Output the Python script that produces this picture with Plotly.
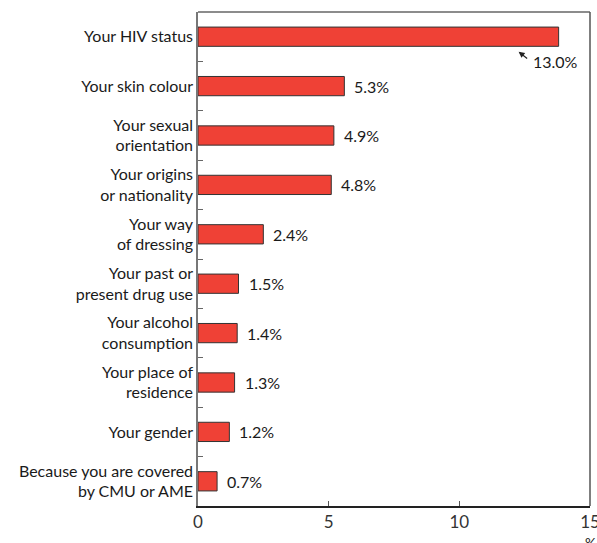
import plotly.graph_objects as go

categories = [
    "Your HIV status",
    "Your skin colour",
    "Your sexual<br>orientation",
    "Your origins<br>or nationality",
    "Your way<br>of dressing",
    "Your past or<br>present drug use",
    "Your alcohol<br>consumption",
    "Your place of<br>residence",
    "Your gender",
    "Because you are covered<br>by CMU or AME",
]
bar_values = [13.8, 5.6, 5.2, 5.1, 2.5, 1.55, 1.5, 1.4, 1.2, 0.73]
value_labels = ["13.0%", "5.3%", "4.9%", "4.8%", "2.4%", "1.5%", "1.4%", "1.3%", "1.2%", "0.7%"]
x_ticks = [0, 5, 10, 15]

FONT = "Lato"
TXT = "#1a1a1a"

fig = go.Figure()
fig.add_trace(go.Bar(
    y=categories,
    x=bar_values,
    orientation="h",
    width=0.39,
    marker=dict(color="#EF4136", line=dict(color="#333333", width=1)),
    hoverinfo="skip",
))

annotations = []
for i, (cat, v, lab) in enumerate(zip(categories, bar_values, value_labels)):
    if i == 0:
        annotations.append(dict(
            x=v, y=cat, xref="x", yref="y",
            xshift=-40, yshift=-15,
            text="", showarrow=True, ax=10, ay=8,
            arrowhead=2, arrowsize=1.0, arrowwidth=1.2, arrowcolor="#222",
        ))
        annotations.append(dict(
            x=v, y=cat, xref="x", yref="y",
            xshift=-28, yshift=-25,
            text=lab, showarrow=False, xanchor="left",
            font=dict(family=FONT, size=16, color=TXT),
        ))
    else:
        annotations.append(dict(
            x=v, y=cat, xref="x", yref="y",
            xshift=8, text=lab, showarrow=False, xanchor="left",
            font=dict(family=FONT, size=16, color=TXT),
        ))

annotations.append(dict(
    x=15, y=0, xref="x", yref="paper", yshift=-26,
    text="%", showarrow=False, xanchor="center", yanchor="top",
    font=dict(family=FONT, size=14, color=TXT),
))

fig.update_layout(
    width=597, height=543,
    margin=dict(l=198, r=7, t=12, b=37, pad=0, autoexpand=False),
    paper_bgcolor="white", plot_bgcolor="white",
    showlegend=False,
    font=dict(family=FONT, size=16, color=TXT),
    annotations=annotations,
)
fig.update_xaxes(
    range=[0, 15], tickvals=x_ticks, ticktext=[str(t) for t in x_ticks],
    ticks="inside", ticklen=5, tickcolor="#555",
    showline=True, linecolor="#222", linewidth=1.5, mirror=False,
    showgrid=False, zeroline=False, automargin=False,
    ticklabeloverflow="allow",
    tickfont=dict(family=FONT, size=17, color="#333"),
)
fig.update_yaxes(
    range=[9.5, -0.5], type="category",
    ticks="inside", ticklen=5, tickcolor="#666", tickson="boundaries",
    showline=True, linecolor="#777", linewidth=1.5, mirror=False,
    showgrid=False, zeroline=False, automargin=False,
    tickfont=dict(family=FONT, size=16, color=TXT),
)
# top and right frame lines
fig.add_shape(type="line", xref="x domain", yref="y domain", x0=0, y0=1, x1=1, y1=1,
              line=dict(color="#666", width=1.5), layer="above")
fig.add_shape(type="line", xref="x domain", yref="y domain", x0=1, y0=0, x1=1, y1=1,
              line=dict(color="#555", width=1.5), layer="above")

fig.write_html("out.html")
